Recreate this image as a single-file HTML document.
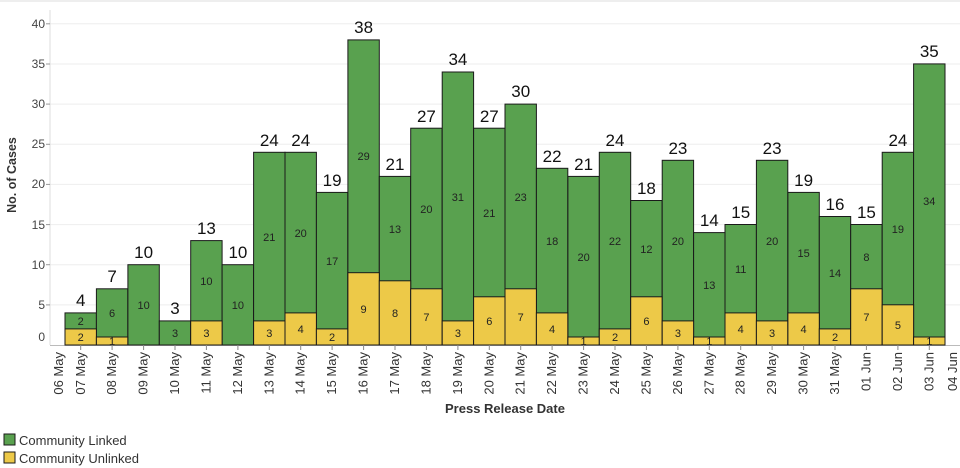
<!DOCTYPE html>
<html><head><meta charset="utf-8"><style>
html,body{margin:0;padding:0;background:#fff}
svg{display:block;font-family:"Liberation Sans","DejaVu Sans",sans-serif}
.in{font-size:11px;fill:#222;text-anchor:middle}
.tot{font-size:17px;fill:#111;text-anchor:middle}
.xl{font-size:13px;fill:#333;text-anchor:end}
.yl{font-size:12px;fill:#444;text-anchor:end}
</style></head><body>
<svg width="960" height="468" viewBox="0 0 960 468">
<line x1="0" y1="1" x2="960" y2="1" stroke="#ddd"/>
<g stroke="#eee" stroke-width="1">
<line x1="50" x2="960" y1="304.9" y2="304.9"/><line x1="50" x2="960" y1="264.7" y2="264.7"/><line x1="50" x2="960" y1="224.6" y2="224.6"/><line x1="50" x2="960" y1="184.4" y2="184.4"/><line x1="50" x2="960" y1="144.3" y2="144.3"/><line x1="50" x2="960" y1="104.1" y2="104.1"/><line x1="50" x2="960" y1="64" y2="64"/><line x1="50" x2="960" y1="23.8" y2="23.8"/>
</g>
<line x1="50" y1="10" x2="50" y2="345" stroke="#ddd"/>
<line x1="50" y1="345.5" x2="960" y2="345.5" stroke="#bbb"/>
<g stroke="#999"><line x1="46" x2="50" y1="304.9" y2="304.9"/><line x1="46" x2="50" y1="264.7" y2="264.7"/><line x1="46" x2="50" y1="224.6" y2="224.6"/><line x1="46" x2="50" y1="184.4" y2="184.4"/><line x1="46" x2="50" y1="144.3" y2="144.3"/><line x1="46" x2="50" y1="104.1" y2="104.1"/><line x1="46" x2="50" y1="64" y2="64"/><line x1="46" x2="50" y1="23.8" y2="23.8"/></g>
<g class="yl">
<text x="45" y="341">0</text><text x="45" y="309">5</text><text x="45" y="269">10</text><text x="45" y="229">15</text><text x="45" y="188">20</text><text x="45" y="148">25</text><text x="45" y="108">30</text><text x="45" y="68">35</text><text x="45" y="28">40</text>
</g>
<text transform="translate(16,175) rotate(-90)" font-size="12.5" font-weight="bold" fill="#333" text-anchor="middle">No. of Cases</text>

<g stroke="#1a1a1a" stroke-width="1" fill="#59a14f">
<rect x="65" y="312.9" width="31.4" height="32.1"/>
<rect x="96.4" y="288.8" width="31.4" height="56.2"/>
<rect x="127.9" y="264.7" width="31.4" height="80.3"/>
<rect x="159.3" y="320.9" width="31.4" height="24.1"/>
<rect x="190.7" y="240.6" width="31.4" height="104.4"/>
<rect x="222.1" y="264.7" width="31.4" height="80.3"/>
<rect x="253.6" y="152.3" width="31.4" height="192.7"/>
<rect x="285" y="152.3" width="31.4" height="192.7"/>
<rect x="316.4" y="192.4" width="31.4" height="152.6"/>
<rect x="347.9" y="39.9" width="31.4" height="305.1"/>
<rect x="379.3" y="176.4" width="31.4" height="168.6"/>
<rect x="410.7" y="128.2" width="31.4" height="216.8"/>
<rect x="442.2" y="72" width="31.4" height="273"/>
<rect x="473.6" y="128.2" width="31.4" height="216.8"/>
<rect x="505" y="104.1" width="31.4" height="240.9"/>
<rect x="536.4" y="168.3" width="31.4" height="176.7"/>
<rect x="567.9" y="176.4" width="31.4" height="168.6"/>
<rect x="599.3" y="152.3" width="31.4" height="192.7"/>
<rect x="630.7" y="200.5" width="31.4" height="144.5"/>
<rect x="662.2" y="160.3" width="31.4" height="184.7"/>
<rect x="693.6" y="232.6" width="31.4" height="112.4"/>
<rect x="725" y="224.5" width="31.4" height="120.5"/>
<rect x="756.4" y="160.3" width="31.4" height="184.7"/>
<rect x="787.9" y="192.4" width="31.4" height="152.6"/>
<rect x="819.3" y="216.5" width="31.4" height="128.5"/>
<rect x="850.7" y="224.5" width="31.4" height="120.5"/>
<rect x="882.2" y="152.3" width="31.4" height="192.7"/>
<rect x="913.6" y="63.9" width="31.4" height="281.1"/>
</g>
<g stroke="#1a1a1a" stroke-width="1" fill="#edc948">
<rect x="65" y="328.9" width="31.4" height="16.1"/>
<rect x="96.4" y="337" width="31.4" height="8"/>
<rect x="190.7" y="320.9" width="31.4" height="24.1"/>
<rect x="253.6" y="320.9" width="31.4" height="24.1"/>
<rect x="285" y="312.9" width="31.4" height="32.1"/>
<rect x="316.4" y="328.9" width="31.4" height="16.1"/>
<rect x="347.9" y="272.7" width="31.4" height="72.3"/>
<rect x="379.3" y="280.8" width="31.4" height="64.2"/>
<rect x="410.7" y="288.8" width="31.4" height="56.2"/>
<rect x="442.2" y="320.9" width="31.4" height="24.1"/>
<rect x="473.6" y="296.8" width="31.4" height="48.2"/>
<rect x="505" y="288.8" width="31.4" height="56.2"/>
<rect x="536.4" y="312.9" width="31.4" height="32.1"/>
<rect x="567.9" y="337" width="31.4" height="8"/>
<rect x="599.3" y="328.9" width="31.4" height="16.1"/>
<rect x="630.7" y="296.8" width="31.4" height="48.2"/>
<rect x="662.2" y="320.9" width="31.4" height="24.1"/>
<rect x="693.6" y="337" width="31.4" height="8"/>
<rect x="725" y="312.9" width="31.4" height="32.1"/>
<rect x="756.4" y="320.9" width="31.4" height="24.1"/>
<rect x="787.9" y="312.9" width="31.4" height="32.1"/>
<rect x="819.3" y="328.9" width="31.4" height="16.1"/>
<rect x="850.7" y="288.8" width="31.4" height="56.2"/>
<rect x="882.2" y="304.8" width="31.4" height="40.2"/>
<rect x="913.6" y="337" width="31.4" height="8"/>
</g>

<g class="in">
<text x="80.7" y="325">2</text><text x="80.7" y="341">2</text>
<text x="112.1" y="317">6</text><text x="112.1" y="345">1</text>
<text x="143.6" y="309">10</text>
<text x="175" y="337">3</text>
<text x="206.4" y="285">10</text><text x="206.4" y="337">3</text>
<text x="237.9" y="309">10</text>
<text x="269.3" y="241">21</text><text x="269.3" y="337">3</text>
<text x="300.7" y="237">20</text><text x="300.7" y="333">4</text>
<text x="332.1" y="265">17</text><text x="332.1" y="341">2</text>
<text x="363.6" y="160">29</text><text x="363.6" y="313">9</text>
<text x="395" y="233">13</text><text x="395" y="317">8</text>
<text x="426.4" y="213">20</text><text x="426.4" y="321">7</text>
<text x="457.9" y="201">31</text><text x="457.9" y="337">3</text>
<text x="489.3" y="217">21</text><text x="489.3" y="325">6</text>
<text x="520.7" y="201">23</text><text x="520.7" y="321">7</text>
<text x="552.1" y="245">18</text><text x="552.1" y="333">4</text>
<text x="583.6" y="261">20</text><text x="583.6" y="345">1</text>
<text x="615" y="245">22</text><text x="615" y="341">2</text>
<text x="646.4" y="253">12</text><text x="646.4" y="325">6</text>
<text x="677.9" y="245">20</text><text x="677.9" y="337">3</text>
<text x="709.3" y="289">13</text><text x="709.3" y="345">1</text>
<text x="740.7" y="273">11</text><text x="740.7" y="333">4</text>
<text x="772.1" y="245">20</text><text x="772.1" y="337">3</text>
<text x="803.6" y="257">15</text><text x="803.6" y="333">4</text>
<text x="835" y="277">14</text><text x="835" y="341">2</text>
<text x="866.4" y="261">8</text><text x="866.4" y="321">7</text>
<text x="897.9" y="233">19</text><text x="897.9" y="329">5</text>
<text x="929.3" y="205">34</text><text x="929.3" y="345">1</text>
</g>

<g class="tot">
<text x="80.7" y="306">4</text><text x="112.1" y="282">7</text><text x="143.6" y="258">10</text><text x="175" y="314">3</text><text x="206.4" y="234">13</text><text x="237.9" y="258">10</text><text x="269.3" y="146">24</text><text x="300.7" y="146">24</text><text x="332.1" y="186">19</text><text x="363.6" y="33">38</text><text x="395" y="170">21</text><text x="426.4" y="122">27</text><text x="457.9" y="65">34</text><text x="489.3" y="122">27</text><text x="520.7" y="97">30</text><text x="552.1" y="162">22</text><text x="583.6" y="170">21</text><text x="615" y="146">24</text><text x="646.4" y="194">18</text><text x="677.9" y="154">23</text><text x="709.3" y="226">14</text><text x="740.7" y="218">15</text><text x="772.1" y="154">23</text><text x="803.6" y="186">19</text><text x="835" y="210">16</text><text x="866.4" y="218">15</text><text x="897.9" y="146">24</text><text x="929.3" y="57">35</text>
</g>

<g stroke="#888">
<line x1="80.7" x2="80.7" y1="345" y2="350"/><line x1="112.1" x2="112.1" y1="345" y2="350"/><line x1="143.6" x2="143.6" y1="345" y2="350"/><line x1="175" x2="175" y1="345" y2="350"/><line x1="206.4" x2="206.4" y1="345" y2="350"/><line x1="237.9" x2="237.9" y1="345" y2="350"/><line x1="269.3" x2="269.3" y1="345" y2="350"/><line x1="300.7" x2="300.7" y1="345" y2="350"/><line x1="332.1" x2="332.1" y1="345" y2="350"/><line x1="363.6" x2="363.6" y1="345" y2="350"/><line x1="395" x2="395" y1="345" y2="350"/><line x1="426.4" x2="426.4" y1="345" y2="350"/><line x1="457.9" x2="457.9" y1="345" y2="350"/><line x1="489.3" x2="489.3" y1="345" y2="350"/><line x1="520.7" x2="520.7" y1="345" y2="350"/><line x1="552.1" x2="552.1" y1="345" y2="350"/><line x1="583.6" x2="583.6" y1="345" y2="350"/><line x1="615" x2="615" y1="345" y2="350"/><line x1="646.4" x2="646.4" y1="345" y2="350"/><line x1="677.9" x2="677.9" y1="345" y2="350"/><line x1="709.3" x2="709.3" y1="345" y2="350"/><line x1="740.7" x2="740.7" y1="345" y2="350"/><line x1="772.1" x2="772.1" y1="345" y2="350"/><line x1="803.6" x2="803.6" y1="345" y2="350"/><line x1="835" x2="835" y1="345" y2="350"/><line x1="866.4" x2="866.4" y1="345" y2="350"/><line x1="897.9" x2="897.9" y1="345" y2="350"/><line x1="929.3" x2="929.3" y1="345" y2="350"/>
</g>
<g class="xl">
<text transform="translate(63,352) rotate(-90)">06 May</text>
<text transform="translate(85,352) rotate(-90)">07 May</text>
<text transform="translate(116.1,352) rotate(-90)">08 May</text>
<text transform="translate(147.6,352) rotate(-90)">09 May</text>
<text transform="translate(179,352) rotate(-90)">10 May</text>
<text transform="translate(210.4,352) rotate(-90)">11 May</text>
<text transform="translate(241.9,352) rotate(-90)">12 May</text>
<text transform="translate(273.3,352) rotate(-90)">13 May</text>
<text transform="translate(304.7,352) rotate(-90)">14 May</text>
<text transform="translate(336.1,352) rotate(-90)">15 May</text>
<text transform="translate(367.6,352) rotate(-90)">16 May</text>
<text transform="translate(399,352) rotate(-90)">17 May</text>
<text transform="translate(430.4,352) rotate(-90)">18 May</text>
<text transform="translate(461.9,352) rotate(-90)">19 May</text>
<text transform="translate(493.3,352) rotate(-90)">20 May</text>
<text transform="translate(524.7,352) rotate(-90)">21 May</text>
<text transform="translate(556.1,352) rotate(-90)">22 May</text>
<text transform="translate(587.6,352) rotate(-90)">23 May</text>
<text transform="translate(619,352) rotate(-90)">24 May</text>
<text transform="translate(650.4,352) rotate(-90)">25 May</text>
<text transform="translate(681.9,352) rotate(-90)">26 May</text>
<text transform="translate(713.3,352) rotate(-90)">27 May</text>
<text transform="translate(744.7,352) rotate(-90)">28 May</text>
<text transform="translate(776.1,352) rotate(-90)">29 May</text>
<text transform="translate(807.6,352) rotate(-90)">30 May</text>
<text transform="translate(839,352) rotate(-90)">31 May</text>
<text transform="translate(870.4,352) rotate(-90)">01 Jun</text>
<text transform="translate(901.9,352) rotate(-90)">02 Jun</text>
<text transform="translate(933.3,352) rotate(-90)">03 Jun</text>
<text transform="translate(957,352) rotate(-90)">04 Jun</text>
</g>
<text x="505" y="413" font-size="13" font-weight="bold" fill="#333" text-anchor="middle">Press Release Date</text>

<rect x="4" y="434" width="11" height="11" fill="#59a14f" stroke="#1a1a1a"/>
<text x="19" y="445" font-size="13" fill="#333">Community Linked</text>
<rect x="4" y="452" width="11" height="11" fill="#edc948" stroke="#1a1a1a"/>
<text x="19" y="463" font-size="13" fill="#333">Community Unlinked</text>
</svg>
</body></html>
